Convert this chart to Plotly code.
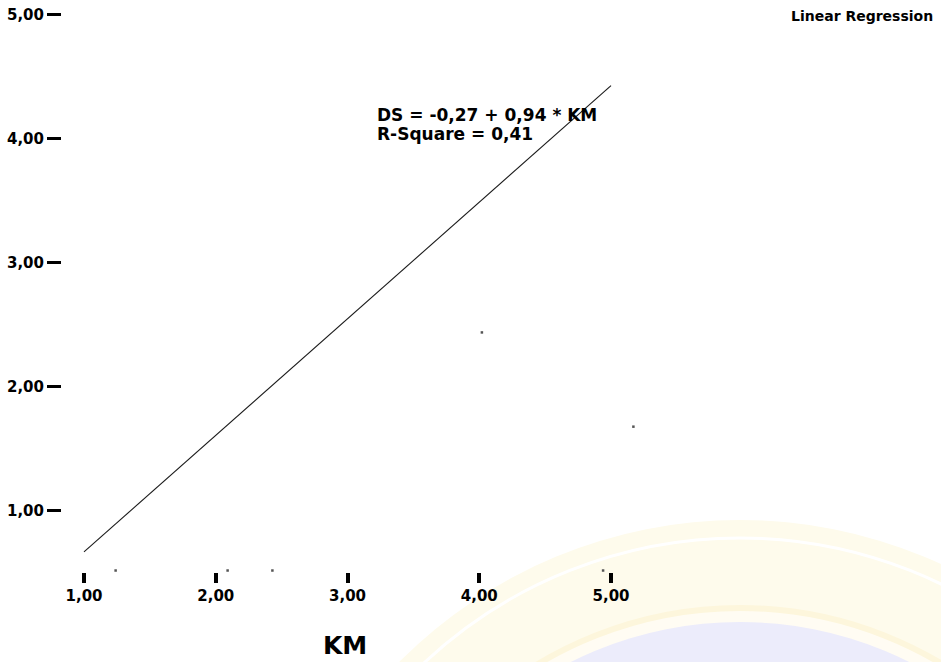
import plotly.graph_objects as go

# ---- data ----
km = [0.82, 4.02, 5.17, 1.24, 2.09, 2.43, 4.94]
ds = [3.48, 2.44, 1.68, 0.52, 0.52, 0.52, 0.52]
fit_km = [1.0, 5.0]
fit_ds = [0.67, 4.43]
intercept = -0.27
slope = 0.94
r_square = 0.41
tick_vals = [1, 2, 3, 4, 5]
tick_text = ["1,00", "2,00", "3,00", "4,00", "5,00"]

FONT = "DejaVu Sans"

def fmt(v):
    return f"{v:.2f}".replace(".", ",")

fig = go.Figure()

fig.add_trace(go.Scatter(
    x=fit_km, y=fit_ds, mode="lines",
    line=dict(color="#1a1a1a", width=1.1),
    hoverinfo="skip", showlegend=False))

fig.add_trace(go.Scatter(
    x=km, y=ds, mode="markers",
    marker=dict(symbol="square", size=2.5, color="#555555", line=dict(width=0)),
    cliponaxis=False, showlegend=False))

# faint watermark (scan artefact) in the lower right
def px2paper(x, y):
    return (x - 62) / 638, (572 - y) / 567

def circle(cx, cy, r, **kw):
    x0, y0 = px2paper(cx - r, cy + r)
    x1, y1 = px2paper(cx + r, cy - r)
    fig.add_shape(type="circle", xref="paper", yref="paper",
                  x0=x0, y0=y0, x1=x1, y1=y1, layer="below", **kw)

circle(740, 1000, 480, fillcolor="#fefbec", line=dict(width=0))
circle(740, 1000, 462, fillcolor="rgba(0,0,0,0)", line=dict(color="white", width=3))
circle(740, 1000, 392, fillcolor="#fffcf3", line=dict(color="#fdf6dc", width=6))
circle(740, 1000, 378, fillcolor="#ececfb", line=dict(width=0))

fig.add_annotation(x=3.209, y=4.194, xref="x", yref="y",
                   text=f"DS = {fmt(intercept)} + {fmt(slope)} * KM",
                   showarrow=False, xanchor="left", yanchor="middle",
                   font=dict(family=FONT, size=17, color="black", weight="bold"))
fig.add_annotation(x=3.209, y=4.04, xref="x", yref="y",
                   text=f"R-Square = {fmt(r_square)}",
                   showarrow=False, xanchor="left", yanchor="middle",
                   font=dict(family=FONT, size=17, color="black", weight="bold"))
fig.add_annotation(x=(935 - 62) / 638, y=(572 - 16) / 567, xref="paper", yref="paper",
                   text="Linear Regression", showarrow=False,
                   xanchor="right", yanchor="middle",
                   font=dict(family=FONT, size=14, color="black", weight="bold"))
fig.add_annotation(x=2.981, y=(572 - 645) / 567, xref="x", yref="paper",
                   text="KM", showarrow=False, xanchor="center", yanchor="middle",
                   font=dict(family=FONT, size=25, color="black", weight="bold"))

fig.update_layout(
    width=941, height=662,
    margin=dict(l=62, r=241, t=5, b=90),
    paper_bgcolor="white", plot_bgcolor="rgba(0,0,0,0)",
    showlegend=False,
    xaxis=dict(range=[0.833, 5.6755], showgrid=False, zeroline=False, showline=False,
               ticks="outside", ticklen=10, tickwidth=4, tickcolor="black",
               tickvals=tick_vals, ticktext=tick_text,
               tickfont=dict(family=FONT, size=15, color="black", weight="bold")),
    yaxis=dict(range=[0.508, 5.0806], showgrid=False, zeroline=False, showline=False,
               ticks="outside", ticklen=14, tickwidth=3, tickcolor="black",
               tickvals=tick_vals, ticktext=tick_text,
               tickfont=dict(family=FONT, size=15, color="black", weight="bold")),
)

fig.write_html("out.html", config={"displayModeBar": False},
               post_script="document.body.style.margin='0';document.body.style.overflow='hidden';")
